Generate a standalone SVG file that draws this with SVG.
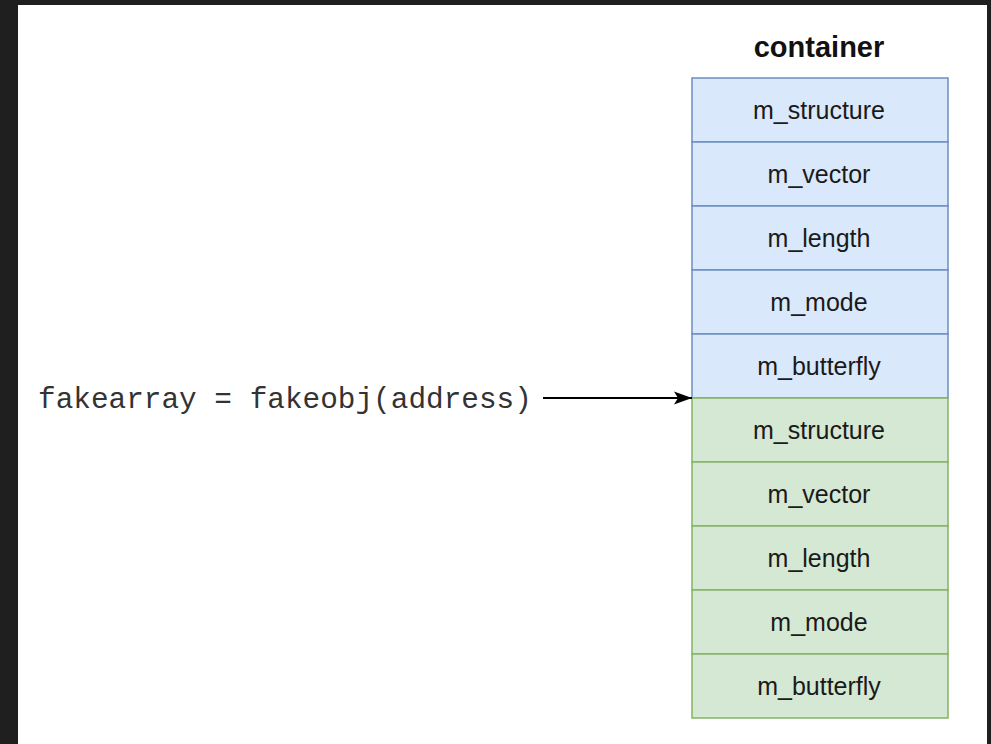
<svg xmlns="http://www.w3.org/2000/svg" width="991" height="744" viewBox="0 0 991 744">
  <style>
    .cell-label { font-family: "Liberation Sans", Arial, sans-serif; font-size: 25px; fill: #1a1a1a; text-anchor: middle; }
    .blue rect { fill: #dae8fc; stroke: #6c8ebf; stroke-width: 1.5; }
    .green rect { fill: #d5e8d4; stroke: #82b366; stroke-width: 1.5; }
    .title { font-family: "Liberation Sans", Arial, sans-serif; font-size: 29px; font-weight: bold; fill: #111; text-anchor: middle; }
    .code { font-family: "Liberation Mono", "Courier New", monospace; font-size: 29.4px; fill: #333; }
  </style>
  <defs>
    <marker id="arrow" markerWidth="18" markerHeight="14" refX="18" refY="7" orient="auto" markerUnits="userSpaceOnUse">
      <path d="M0,0.5 L18,7 L0,13.5 L4,7 Z" fill="#000"/>
    </marker>
  </defs>

  <!-- page frame -->
  <rect x="0" y="0" width="991" height="744" fill="#1f1f1f"/>
  <rect x="18" y="5" width="969" height="739" fill="#ffffff"/>

  <text class="title" x="819" y="57">container</text>

  <!-- first object (blue) -->
  <g id="blue-structure" class="blue"><rect x="692" y="78" width="256" height="64"/><text class="cell-label" x="819" y="119">m_structure</text></g>
  <g id="blue-vector" class="blue"><rect x="692" y="142" width="256" height="64"/><text class="cell-label" x="819" y="183">m_vector</text></g>
  <g id="blue-length" class="blue"><rect x="692" y="206" width="256" height="64"/><text class="cell-label" x="819" y="247">m_length</text></g>
  <g id="blue-mode" class="blue"><rect x="692" y="270" width="256" height="64"/><text class="cell-label" x="819" y="311">m_mode</text></g>
  <g id="blue-butterfly" class="blue"><rect x="692" y="334" width="256" height="64"/><text class="cell-label" x="819" y="375">m_butterfly</text></g>

  <!-- fake object (green) -->
  <g id="green-structure" class="green"><rect x="692" y="398" width="256" height="64"/><text class="cell-label" x="819" y="439">m_structure</text></g>
  <g id="green-vector" class="green"><rect x="692" y="462" width="256" height="64"/><text class="cell-label" x="819" y="503">m_vector</text></g>
  <g id="green-length" class="green"><rect x="692" y="526" width="256" height="64"/><text class="cell-label" x="819" y="567">m_length</text></g>
  <g id="green-mode" class="green"><rect x="692" y="590" width="256" height="64"/><text class="cell-label" x="819" y="631">m_mode</text></g>
  <g id="green-butterfly" class="green"><rect x="692" y="654" width="256" height="64"/><text class="cell-label" x="819" y="695">m_butterfly</text></g>

  <g id="fakearray-label">
    <text class="code" x="38" y="408">fakearray = fakeobj(address)</text>
  </g>

  <g id="connectors">
    <line x1="543" y1="398" x2="692" y2="398" stroke="#000" stroke-width="2" marker-end="url(#arrow)"/>
  </g>
</svg>
